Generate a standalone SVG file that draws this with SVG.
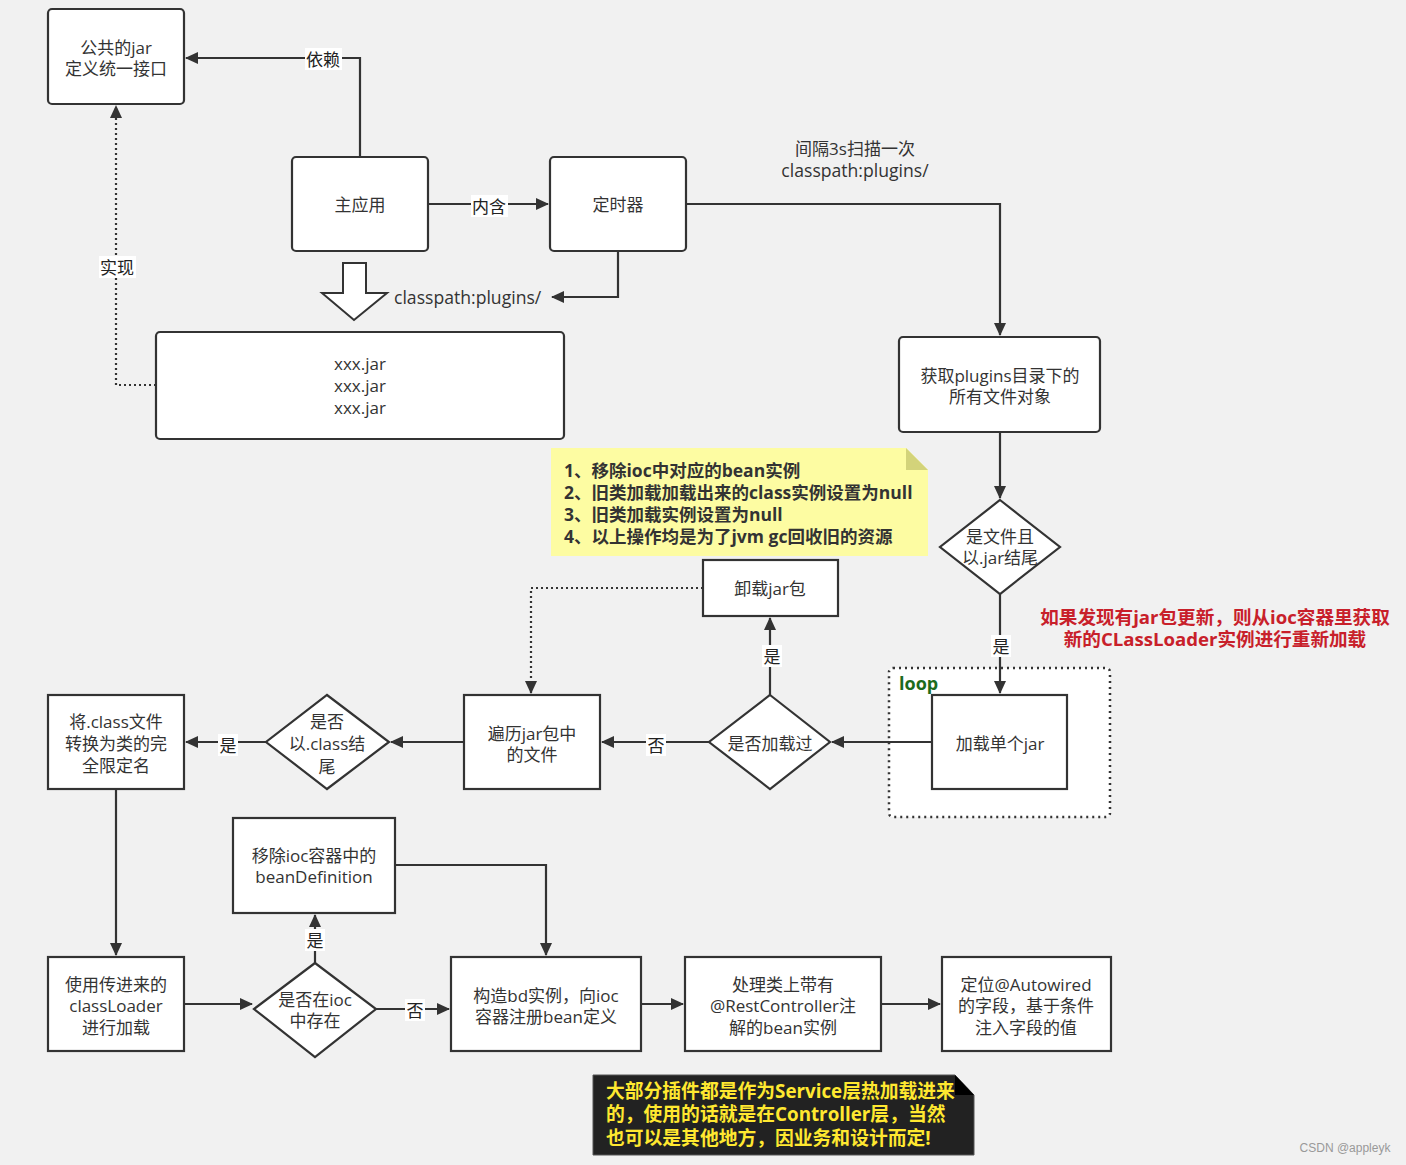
<svg xmlns="http://www.w3.org/2000/svg" width="1406" height="1165" viewBox="0 0 1406 1165">
<style>
.bg{fill:#f1f1f1}
.box{fill:#fff;stroke:#333;stroke-width:2.2}
.t{font-family:"Open Sans","Noto Sans CJK SC",sans-serif;font-size:17px;fill:#333;text-anchor:middle;dominant-baseline:central}
.lbl{font-family:"Open Sans","Noto Sans CJK SC",sans-serif;font-size:17px;fill:#222;text-anchor:middle;dominant-baseline:central}
.lb{fill:#fff}
.e{fill:none;stroke:#333;stroke-width:2.2}
.d{fill:none;stroke:#333;stroke-width:2.2;stroke-dasharray:2 3}
.note{font-family:"Open Sans","Noto Sans CJK SC",sans-serif;font-size:17.5px;font-weight:bold;fill:#333;dominant-baseline:central}
.red{font-family:"Open Sans","Noto Sans CJK SC",sans-serif;font-size:18.6px;font-weight:bold;fill:#c8202a;text-anchor:middle;dominant-baseline:central}
.yel{font-family:"Open Sans","Noto Sans CJK SC",sans-serif;font-size:18.8px;font-weight:bold;fill:#ffe830;dominant-baseline:central}
</style>
<defs>
<marker id="ah" markerUnits="userSpaceOnUse" markerWidth="14" markerHeight="12" refX="12" refY="6" orient="auto">
<path d="M0,0 L13,6 L0,12 z" fill="#333"/>
</marker>
</defs>
<rect class="bg" x="0" y="0" width="1406" height="1165"/>

<g id="loop-frame">
<rect x="889" y="668" width="221" height="149" rx="4" fill="#fff" stroke="#333" stroke-width="2.5" stroke-dasharray="2 4"/>
<text x="899" y="683" font-family="Open Sans,Noto Sans CJK SC,sans-serif" font-size="18" font-weight="bold" fill="#1d6b1d" dominant-baseline="central">loop</text>
</g>

<g id="connectors">
<path class="e" d="M360,157 V58 H186" marker-end="url(#ah)"/>
<path class="e" d="M428,204 H548" marker-end="url(#ah)"/>
<path class="e" d="M686,204 H1000 V335" marker-end="url(#ah)"/>
<path class="e" d="M618,251 V297 H552" marker-end="url(#ah)"/>
<path class="d" d="M156,385 H116 V106" marker-end="url(#ah)"/>
<path class="e" d="M1000,432 V498" marker-end="url(#ah)"/>
<path class="e" d="M1000,594 V693" marker-end="url(#ah)"/>
<path class="e" d="M932,742 H832" marker-end="url(#ah)"/>
<path class="e" d="M770,695 V618" marker-end="url(#ah)"/>
<path class="d" d="M703,588 H531 V693" marker-end="url(#ah)"/>
<path class="e" d="M709,742 H602" marker-end="url(#ah)"/>
<path class="e" d="M464,742 H391" marker-end="url(#ah)"/>
<path class="e" d="M266,742 H186" marker-end="url(#ah)"/>
<path class="e" d="M116,789 V955" marker-end="url(#ah)"/>
<path class="e" d="M184,1004 H252" marker-end="url(#ah)"/>
<path class="e" d="M315,963 V915" marker-end="url(#ah)"/>
<path class="e" d="M395,865 H546 V955" marker-end="url(#ah)"/>
<path class="e" d="M375,1009 H449" marker-end="url(#ah)"/>
<path class="e" d="M641,1004 H683" marker-end="url(#ah)"/>
<path class="e" d="M881,1004 H940" marker-end="url(#ah)"/>
<rect class="lb" x="305" y="48" width="37" height="22"/><text class="lbl" x="323" y="59">依赖</text>
<rect class="lb" x="471" y="195" width="37" height="22"/><text class="lbl" x="489" y="206">内含</text>
<rect class="lb" x="99" y="256" width="37" height="22"/><text class="lbl" x="117" y="267">实现</text>
<text class="t" x="394" y="297" style="text-anchor:start;font-size:17.6px">classpath:plugins/</text>
<text class="t" x="855" y="148">间隔3s扫描一次</text>
<text class="t" x="855" y="170" style="font-size:17.6px">classpath:plugins/</text>
<rect class="lb" x="991" y="635" width="20" height="22"/><text class="lbl" x="1001" y="646">是</text>
<rect class="lb" x="762" y="645" width="20" height="22"/><text class="lbl" x="772" y="656">是</text>
<rect class="lb" x="646" y="734" width="20" height="22"/><text class="lbl" x="656" y="745">否</text>
<rect class="lb" x="218" y="734" width="20" height="22"/><text class="lbl" x="228" y="745">是</text>
<rect class="lb" x="305" y="929" width="20" height="22"/><text class="lbl" x="315" y="940">是</text>
<rect class="lb" x="405" y="999" width="20" height="22"/><text class="lbl" x="415" y="1010">否</text>
</g>

<g id="n-common-jar"><rect class="box" x="48" y="9" width="136" height="95" rx="4"/><text class="t" x="116" y="47">公共的jar</text><text class="t" x="116" y="68">定义统一接口</text></g>
<g id="n-main-app"><rect class="box" x="292" y="157" width="136" height="94" rx="4"/><text class="t" x="360" y="204">主应用</text></g>
<g id="n-timer"><rect class="box" x="550" y="157" width="136" height="94" rx="4"/><text class="t" x="618" y="204">定时器</text></g>
<g id="n-block-arrow"><polygon points="343,263 366,263 366,293 387,293 354,320 322,293 343,293" fill="#fff" stroke="#333" stroke-width="2"/></g>
<g id="n-jars"><rect class="box" x="156" y="332" width="408" height="107" rx="4"/><text class="t" x="360" y="363">xxx.jar</text><text class="t" x="360" y="385">xxx.jar</text><text class="t" x="360" y="407">xxx.jar</text></g>
<g id="n-get-files"><rect class="box" x="899" y="337" width="201" height="95" rx="4"/><text class="t" x="1000" y="375">获取plugins目录下的</text><text class="t" x="1000" y="396">所有文件对象</text></g>
<g id="n-is-jar"><polygon class="box" points="1000,500 1060,547 1000,594 940,547"/><text class="t" x="1000" y="536">是文件且</text><text class="t" x="1000" y="557">以.jar结尾</text></g>
<g id="n-red-note"><text class="red" x="1215" y="616">如果发现有jar包更新，则从ioc容器里获取</text><text class="red" x="1215" y="638">新的CLassLoader实例进行重新加载</text></g>
<g id="n-load-jar"><rect class="box" x="932" y="695" width="135" height="94"/><text class="t" x="1000" y="743">加载单个jar</text></g>
<g id="n-loaded"><polygon class="box" points="770,695 830,742 770,789 709,742"/><text class="t" x="770" y="743">是否加载过</text></g>
<g id="n-unload"><rect class="box" x="703" y="560" width="135" height="56"/><text class="t" x="770" y="588">卸载jar包</text></g>
<g id="n-yellow-note">
<path d="M551,448 H906 L928,470 V556 H551 Z" fill="#fdfca2"/>
<path d="M906,448 L928,470 H906 Z" fill="#d3d37a"/>
<text class="note" x="564" y="470">1、移除ioc中对应的bean实例</text>
<text class="note" x="564" y="492">2、旧类加载加载出来的class实例设置为null</text>
<text class="note" x="564" y="514">3、旧类加载实例设置为null</text>
<text class="note" x="564" y="536">4、以上操作均是为了jvm gc回收旧的资源</text>
</g>
<g id="n-iterate"><rect class="box" x="464" y="695" width="136" height="94"/><text class="t" x="532" y="733">遍历jar包中</text><text class="t" x="532" y="754">的文件</text></g>
<g id="n-is-class"><polygon class="box" points="327,695 389,742 327,789 266,742"/><text class="t" x="327" y="721">是否</text><text class="t" x="327" y="743">以.class结</text><text class="t" x="327" y="766">尾</text></g>
<g id="n-to-name"><rect class="box" x="48" y="695" width="136" height="94"/><text class="t" x="116" y="721">将.class文件</text><text class="t" x="116" y="743">转换为类的完</text><text class="t" x="116" y="765">全限定名</text></g>
<g id="n-classloader"><rect class="box" x="48" y="957" width="136" height="94"/><text class="t" x="116" y="984">使用传进来的</text><text class="t" x="116" y="1005">classLoader</text><text class="t" x="116" y="1027">进行加载</text></g>
<g id="n-in-ioc"><polygon class="box" points="315,963 376,1009 315,1057 254,1009"/><text class="t" x="315" y="999">是否在ioc</text><text class="t" x="315" y="1020">中存在</text></g>
<g id="n-remove-bd"><rect class="box" x="233" y="818" width="162" height="95"/><text class="t" x="314" y="855">移除ioc容器中的</text><text class="t" x="314" y="876">beanDefinition</text></g>
<g id="n-register"><rect class="box" x="451" y="957" width="190" height="94"/><text class="t" x="546" y="995">构造bd实例，向ioc</text><text class="t" x="546" y="1016">容器注册bean定义</text></g>
<g id="n-controller"><rect class="box" x="685" y="957" width="196" height="94"/><text class="t" x="783" y="984">处理类上带有</text><text class="t" x="783" y="1005">@RestController注</text><text class="t" x="783" y="1027">解的bean实例</text></g>
<g id="n-autowired"><rect class="box" x="942" y="957" width="169" height="94"/><text class="t" x="1026" y="984">定位@Autowired</text><text class="t" x="1026" y="1005">的字段，基于条件</text><text class="t" x="1026" y="1027">注入字段的值</text></g>
<g id="n-dark-note">
<path d="M593,1075 H955 L974,1095 V1155 H593 Z" fill="#222" stroke="#555" stroke-width="1"/>
<path d="M955,1075 L974,1095 H955 Z" fill="#000"/>
<text class="yel" x="606" y="1091">大部分插件都是作为Service层热加载进来</text>
<text class="yel" x="606" y="1114">的，使用的话就是在Controller层，当然</text>
<text class="yel" x="606" y="1138">也可以是其他地方，因业务和设计而定!</text>
</g>
<text x="1345" y="1148" font-family="Liberation Sans,sans-serif" font-size="12" fill="#999" text-anchor="middle" dominant-baseline="central">CSDN @appleyk</text>
</svg>
